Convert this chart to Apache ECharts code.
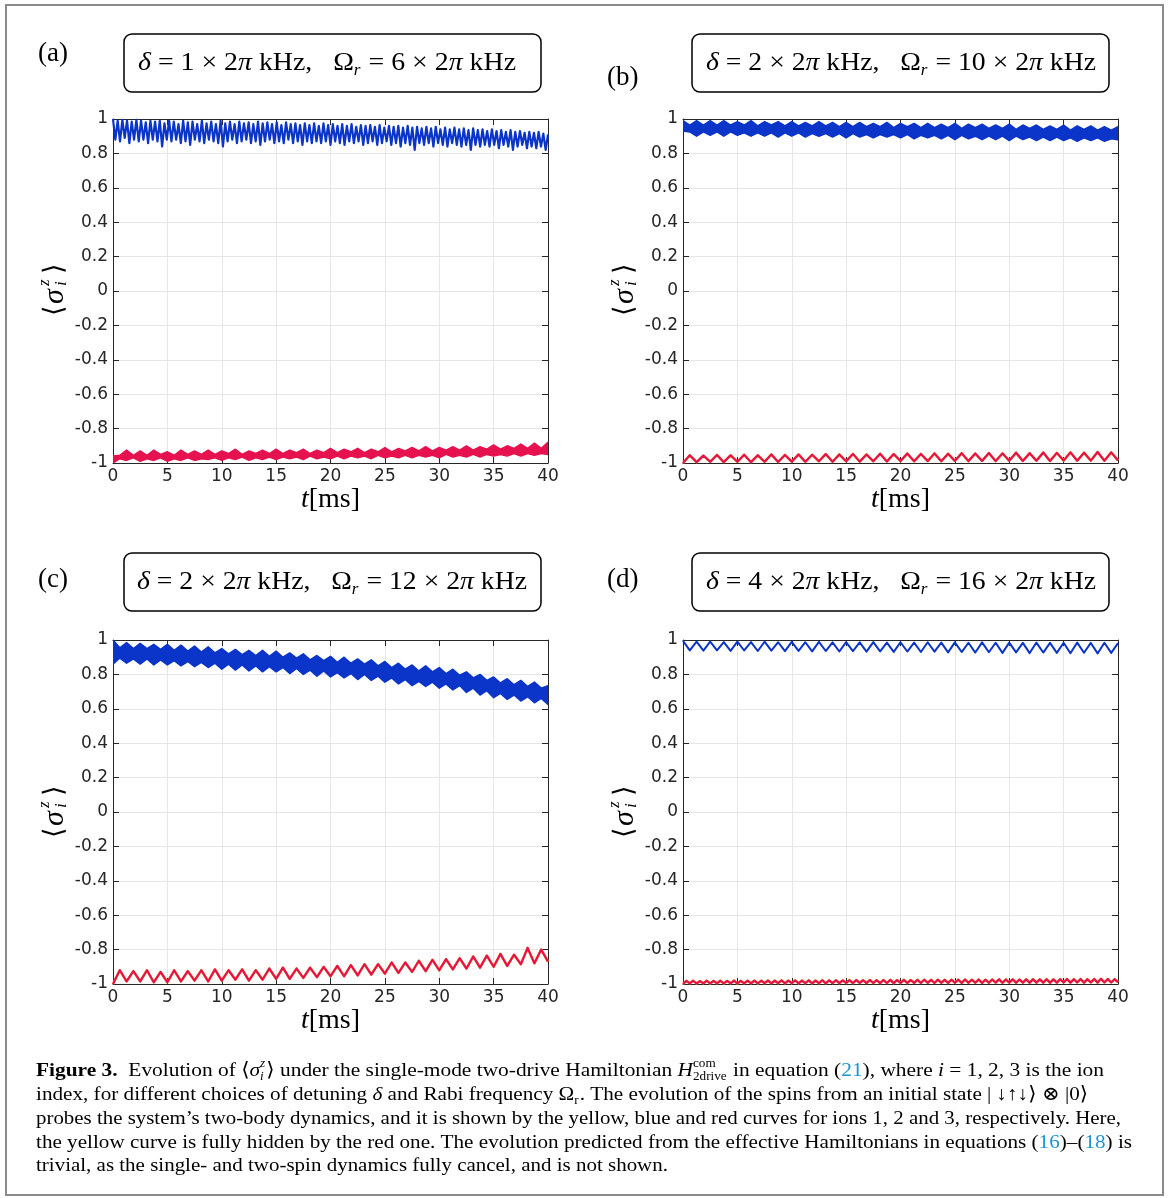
<!DOCTYPE html>
<html><head><meta charset="utf-8">
<script src="https://cdn.jsdelivr.net/npm/echarts@6/dist/echarts.min.js"></script>
<style>html,body{margin:0;padding:0;background:#fff}#c{width:1174px;height:1198px}</style>
</head><body><div id="c"></div>
<script>
// ---------- tick labels / categories ----------
const xTickLabels = ['0','5','10','15','20','25','30','35','40'];
const yTickLabels = ['-1','-0.8','-0.6','-0.4','-0.2','0','0.2','0.4','0.6','0.8','1'];
const panelLabels = ['(a)','(b)','(c)','(d)'];
const deltaValues = ['1','2','2','4'];
const omegaValues = ['6','10','12','16'];

const dtA = 40/186;
const dtB = 0.625;
const dtD = 0.3125;

// ---------- panel (a) ----------
const aBlue = [
1.00,0.88,0.99,0.87,0.995,0.89,0.99,0.86,0.985,0.88,
0.995,0.87,0.99,0.88,0.98,0.86,0.99,0.88,0.985,0.87,
0.99,0.84,0.975,0.88,0.99,0.87,0.985,0.88,0.97,0.86,
0.99,0.87,0.98,0.85,0.985,0.88,0.97,0.87,0.99,0.86,
0.975,0.88,0.985,0.87,0.97,0.86,0.99,0.84,0.975,0.87,
0.985,0.88,0.97,0.86,0.985,0.87,0.975,0.88,0.98,0.86,
0.97,0.87,0.985,0.85,0.975,0.87,0.98,0.88,0.97,0.86,
0.98,0.87,0.965,0.86,0.98,0.88,0.97,0.86,0.975,0.87,
0.965,0.85,0.975,0.87,0.965,0.86,0.975,0.87,0.96,0.86,
0.975,0.87,0.965,0.85,0.97,0.87,0.96,0.86,0.97,0.85,
0.96,0.87,0.97,0.86,0.955,0.87,0.965,0.85,0.96,0.86,
0.965,0.87,0.955,0.85,0.965,0.86,0.95,0.87,0.96,0.85,
0.955,0.86,0.96,0.84,0.95,0.86,0.96,0.85,0.95,0.82,
0.955,0.86,0.945,0.85,0.955,0.86,0.945,0.84,0.955,0.86,
0.94,0.85,0.95,0.84,0.94,0.86,0.95,0.85,0.94,0.84,
0.945,0.85,0.935,0.82,0.945,0.85,0.935,0.84,0.94,0.85,
0.93,0.84,0.94,0.85,0.93,0.83,0.935,0.85,0.925,0.84,
0.935,0.82,0.925,0.84,0.93,0.85,0.92,0.83,0.925,0.84,
0.92,0.83,0.925,0.84,0.915,0.82,0.91];
const aRedLo = [
-1.0,-0.975,-0.985,-0.97,-0.99,-0.975,-0.985,-0.97,-0.99,-0.975,
-0.985,-0.97,-0.985,-0.975,-0.98,-0.97,-0.985,-0.97,-0.98,-0.965,
-0.985,-0.97,-0.98,-0.965,-0.98,-0.965,-0.975,-0.965,-0.98,-0.96,
-0.975,-0.965,-0.975,-0.96,-0.975,-0.96,-0.97,-0.96,-0.975,-0.955,
-0.97,-0.96,-0.97,-0.955,-0.97,-0.955,-0.965,-0.955,-0.97,-0.95,
-0.965,-0.955,-0.965,-0.95,-0.965,-0.95,-0.96,-0.95,-0.96,-0.945,
-0.96,-0.945,-0.955,-0.945,-0.95];
const aRedHi = [
-0.96,-0.955,-0.925,-0.955,-0.93,-0.955,-0.925,-0.95,-0.935,-0.955,
-0.925,-0.95,-0.93,-0.95,-0.925,-0.95,-0.93,-0.945,-0.92,-0.95,
-0.93,-0.945,-0.925,-0.945,-0.92,-0.945,-0.925,-0.94,-0.92,-0.945,
-0.925,-0.94,-0.915,-0.94,-0.92,-0.935,-0.915,-0.94,-0.92,-0.935,
-0.91,-0.935,-0.915,-0.93,-0.91,-0.93,-0.905,-0.93,-0.91,-0.925,
-0.905,-0.925,-0.9,-0.925,-0.905,-0.92,-0.895,-0.92,-0.9,-0.915,
-0.89,-0.915,-0.885,-0.915,-0.88];

// ---------- panel (b) ----------
const bBlueLo = [
0.93,0.925,0.9,0.925,0.905,0.925,0.9,0.925,0.905,0.92,
0.9,0.92,0.9,0.92,0.895,0.92,0.9,0.92,0.895,0.915,
0.9,0.915,0.895,0.915,0.89,0.915,0.895,0.91,0.89,0.91,
0.895,0.91,0.89,0.91,0.885,0.905,0.89,0.905,0.885,0.905,
0.88,0.905,0.885,0.9,0.88,0.9,0.88,0.9,0.875,0.9,
0.88,0.895,0.875,0.895,0.875,0.895,0.875,0.89,0.87,0.89,
0.875,0.89,0.87,0.885,0.88];
const bBlueHi = [
0.99,0.965,0.99,0.965,0.99,0.965,0.99,0.965,0.985,0.965,
0.99,0.96,0.985,0.965,0.985,0.96,0.985,0.96,0.98,0.96,
0.985,0.96,0.98,0.955,0.98,0.955,0.98,0.955,0.975,0.955,
0.98,0.95,0.975,0.955,0.975,0.95,0.975,0.95,0.97,0.95,
0.975,0.945,0.97,0.95,0.97,0.945,0.965,0.945,0.97,0.94,
0.965,0.945,0.965,0.94,0.96,0.94,0.965,0.935,0.96,0.94,
0.96,0.935,0.955,0.935,0.955];
const bRed = [
-1.0,-0.955,-0.995,-0.957,-0.993,-0.953,-0.995,-0.955,-0.993,-0.952,
-0.995,-0.955,-0.993,-0.95,-0.994,-0.953,-0.992,-0.95,-0.993,-0.952,
-0.99,-0.948,-0.993,-0.95,-0.99,-0.947,-0.992,-0.95,-0.99,-0.946,
-0.991,-0.948,-0.989,-0.945,-0.99,-0.947,-0.989,-0.944,-0.99,-0.946,
-0.988,-0.943,-0.989,-0.945,-0.988,-0.942,-0.989,-0.944,-0.987,-0.94,
-0.988,-0.943,-0.987,-0.939,-0.988,-0.941,-0.986,-0.938,-0.987,-0.94,
-0.986,-0.936,-0.987,-0.938,-0.985];

// ---------- panel (c) ----------
const cBlueLo = [
0.86,0.895,0.865,0.89,0.86,0.89,0.855,0.885,0.855,0.88,
0.85,0.875,0.845,0.87,0.84,0.865,0.83,0.86,0.825,0.855,
0.82,0.85,0.815,0.845,0.815,0.84,0.805,0.835,0.8,0.825,
0.79,0.82,0.785,0.81,0.78,0.805,0.77,0.8,0.765,0.79,
0.755,0.78,0.745,0.77,0.735,0.76,0.73,0.755,0.72,0.745,
0.71,0.735,0.695,0.72,0.68,0.705,0.665,0.69,0.655,0.68,
0.645,0.67,0.635,0.66,0.625];
const cBlueHi = [
1.0,0.955,0.985,0.95,0.98,0.95,0.975,0.945,0.975,0.94,
0.97,0.935,0.965,0.93,0.96,0.925,0.95,0.92,0.945,0.915,
0.94,0.91,0.94,0.905,0.935,0.9,0.925,0.895,0.92,0.885,
0.91,0.88,0.905,0.87,0.9,0.865,0.89,0.86,0.885,0.85,
0.875,0.84,0.865,0.83,0.855,0.82,0.85,0.815,0.84,0.805,
0.83,0.795,0.815,0.78,0.8,0.765,0.785,0.75,0.775,0.74,
0.765,0.73,0.755,0.72,0.735];
const cRed = [
-1.0,-0.92,-0.985,-0.925,-0.985,-0.92,-0.99,-0.93,-0.99,-0.92,
-0.985,-0.925,-0.98,-0.92,-0.985,-0.915,-0.98,-0.92,-0.975,-0.915,
-0.98,-0.92,-0.975,-0.91,-0.97,-0.905,-0.97,-0.91,-0.965,-0.905,
-0.96,-0.9,-0.955,-0.895,-0.955,-0.89,-0.95,-0.885,-0.945,-0.885,
-0.94,-0.875,-0.935,-0.875,-0.93,-0.865,-0.925,-0.86,-0.92,-0.855,
-0.915,-0.85,-0.91,-0.84,-0.905,-0.835,-0.9,-0.825,-0.895,-0.83,
-0.885,-0.79,-0.88,-0.8,-0.87];

// ---------- panel (d) ----------
const dBlue = [
0.995,0.94,0.99,0.938,0.99,0.94,0.988,0.937,0.99,0.939,
0.988,0.936,0.99,0.938,0.987,0.935,0.989,0.937,0.987,0.934,
0.989,0.936,0.986,0.933,0.988,0.935,0.986,0.932,0.988,0.934,
0.985,0.931,0.987,0.933,0.985,0.93,0.987,0.932,0.985,0.928,
0.986,0.93,0.984,0.927,0.986,0.929,0.984,0.925,0.985,0.928,
0.983,0.924,0.985,0.927,0.983,0.925,0.984,0.923,0.985,0.926,
0.983,0.922,0.984,0.925,0.982];
const dRed = [
-1.0,-0.982,-0.996,-0.981,-0.997,-0.983,-0.996,-0.981,-0.997,-0.982,
-0.996,-0.981,-0.997,-0.982,-0.996,-0.98,-0.997,-0.982,-0.996,-0.981,
-0.996,-0.98,-0.997,-0.981,-0.995,-0.98,-0.996,-0.981,-0.995,-0.979,
-0.996,-0.98,-0.995,-0.979,-0.996,-0.98,-0.995,-0.979,-0.996,-0.98,
-0.995,-0.978,-0.996,-0.979,-0.995,-0.978,-0.995,-0.979,-0.994,-0.978,
-0.995,-0.977,-0.994,-0.978,-0.995,-0.977,-0.994,-0.978,-0.995,-0.977,
-0.994,-0.976,-0.995,-0.977,-0.994,-0.976,-0.994,-0.977,-0.993,-0.976,
-0.994,-0.975,-0.993,-0.976,-0.994,-0.975,-0.993,-0.976,-0.994,-0.975,
-0.993,-0.975,-0.994,-0.974,-0.993,-0.975,-0.993,-0.974,-0.994,-0.975,
-0.993,-0.974,-0.992,-0.973,-0.993,-0.974,-0.992,-0.973,-0.993,-0.974,
-0.992,-0.973,-0.993,-0.972,-0.992,-0.973,-0.992,-0.972,-0.993,-0.973,
-0.992,-0.972,-0.991,-0.971,-0.992,-0.972,-0.991,-0.971,-0.992,-0.972,
-0.991,-0.971,-0.992,-0.97,-0.991,-0.971,-0.991,-0.972,-0.99];

// ---------- styling ----------
const BLUE = '#0b34c9', RED = '#e6124f', YEL = '#edb120';
const SERIF = '"Liberation Serif", "DejaVu Serif", serif';
const SANS = '"DejaVu Sans", sans-serif';
const AX = '#262626';

const grids = [
  {left:113, top:119, width:435, height:344},
  {left:683, top:119, width:435, height:344},
  {left:113, top:640, width:435, height:344},
  {left:683, top:640, width:435, height:344}
];

function pts(arr, dt){ return arr.map((v,i)=>[+(i*dt).toFixed(6), v]); }

const xAxes = [], yAxes = [];
grids.forEach((g,p)=>{
  const common = {gridIndex:p, type:'value', min:0, max:40, interval:5,
    axisLine:{show:true, onZero:false, lineStyle:{color:AX, width:1}},
    axisTick:{show:true, inside:true, length:6, lineStyle:{color:AX, width:1}}};
  xAxes.push(Object.assign({}, common, {position:'bottom',
    axisLabel:{fontSize:17, fontFamily:SANS, color:AX, margin:5,
      formatter:v=>xTickLabels[Math.round(v/5)]},
    splitLine:{show:true, lineStyle:{color:'#e6e6e6', width:1}},
    name:'{i|t}[ms]', nameLocation:'middle', nameGap:22,
    nameTextStyle:{fontFamily:SERIF, fontSize:28, color:'#000',
      rich:{i:{fontFamily:SERIF, fontSize:28, fontStyle:'italic', color:'#000'}}}}));
  xAxes.push(Object.assign({}, common, {position:'top', axisLabel:{show:false}, splitLine:{show:false}}));
  const ycommon = {gridIndex:p, type:'value', min:-1, max:1, interval:0.2,
    axisLine:{show:true, onZero:false, lineStyle:{color:AX, width:1}},
    axisTick:{show:true, inside:true, length:6, lineStyle:{color:AX, width:1}}};
  yAxes.push(Object.assign({}, ycommon, {position:'left',
    axisLabel:{fontSize:17, fontFamily:SANS, color:AX, margin:5,
      formatter:v=>yTickLabels[Math.round((v+1)/0.2)]},
    splitLine:{show:true, lineStyle:{color:'#e6e6e6', width:1}}}));
  yAxes.push(Object.assign({}, ycommon, {position:'right', axisLabel:{show:false}, splitLine:{show:false}}));
});

function line(p, arr, dt, color, width, z){
  return {type:'line', xAxisIndex:2*p, yAxisIndex:2*p, data:pts(arr,dt), symbol:'none',
    lineStyle:{color, width, join:'round'}, z, silent:true};
}
// envelope band of an unresolved fast oscillation: polygon lo(forward) + hi(backward)
function band(p, lo, hi, dt, color){
  return {type:'custom', xAxisIndex:2*p, yAxisIndex:2*p, clip:true, silent:true, z:3,
    data: lo.map((v,i)=>[+(i*dt).toFixed(6), v, hi[i]]),
    encode:{x:0, y:[1,2]},
    renderItem:(params, api)=>{
      if (params.dataIndex !== 0) return null;
      const n = params.dataInsideLength;
      const top = [], bot = [];
      for (let j=0;j<n;j++){
        bot.push(api.coord([api.value(0,j), api.value(1,j)]));
        top.push(api.coord([api.value(0,j), api.value(2,j)]));
      }
      return {type:'polygon', shape:{points: bot.concat(top.reverse())},
        style:{fill:color, stroke:color, lineWidth:1.5, lineJoin:'round'}};
    }};
}

const series = [
  line(0, aBlue, dtA, BLUE, 2.2, 3),
  band(0, aRedLo, aRedHi, dtB, RED),
  band(1, bBlueLo, bBlueHi, dtB, BLUE),
  line(1, bRed, dtB, YEL, 2.5, 2),
  line(1, bRed, dtB, RED, 2.2, 3),
  band(2, cBlueLo, cBlueHi, dtB, BLUE),
  line(2, cRed, dtB, YEL, 2.5, 2),
  line(2, cRed, dtB, RED, 2.2, 3),
  line(3, dBlue, dtB, BLUE, 2, 3),
  line(3, dRed, dtD, YEL, 2.5, 2),
  line(3, dRed, dtD, RED, 2.2, 3)
];

// ---------- text layout helper ----------
const ctx = document.createElement('canvas').getContext('2d');
function fontStr(r, size){ return (r.i?'italic ':'') + (r.b?'bold ':'') + size + 'px ' + SERIF; }
function measure(text, r, size){ ctx.font = fontStr(r, size); return ctx.measureText(text).width; }
function tstyle(text, r, size){
  return {text, fontFamily:SERIF, fontSize:size, fontStyle:r.i?'italic':'normal',
    fontWeight:r.b?'bold':'normal', fill:r.c||'#000', verticalAlign:'middle', align:'left'};
}
function runLine(runs, x0, yc, size, targetEnd){
  const children = []; let x = 0; const ss = Math.round(size*0.62);
  runs.forEach(r=>{
    if (r.t !== undefined){
      children.push({type:'text', x, y:0, style:tstyle(r.t, r, size)});
      x += measure(r.t, r, size);
    } else {
      let w = 0;
      if (r.sup){ children.push({type:'text', x, y:-size*0.36, style:tstyle(r.sup, r, ss)}); w = Math.max(w, measure(r.sup, r, ss)); }
      if (r.sub){ children.push({type:'text', x, y:size*0.3, style:tstyle(r.sub, r, ss)}); w = Math.max(w, measure(r.sub, r, ss)); }
      x += w + 1;
    }
  });
  const sx = targetEnd ? (targetEnd - x0)/x : 1;
  return {type:'group', x:x0, y:yc, scaleX:sx, scaleY:1, children, silent:true};
}

const graphic = [];
// outer frame
graphic.push({type:'rect', shape:{x:6, y:5, width:1157, height:1190}, style:{fill:'none', stroke:'#8a8a8a', lineWidth:2}, silent:true});

// title boxes
const boxes = [
  {x:124, y:34, tx:138, te:516}, {x:692, y:34, tx:706, te:1096},
  {x:124, y:553, tx:137, te:527}, {x:692, y:553, tx:706, te:1096}
];
boxes.forEach((b,k)=>{
  graphic.push({type:'rect', shape:{x:b.x, y:b.y, width:417, height:58, r:8},
    style:{fill:'#fff', stroke:'#000', lineWidth:1.5}, silent:true});
  const runs = [{t:'δ', i:1}, {t:' = '+deltaValues[k]+' × 2'}, {t:'π', i:1}, {t:' kHz,   Ω'},
    {sub:'r', i:1}, {t:' = '+omegaValues[k]+' × 2'}, {t:'π', i:1}, {t:' kHz'}];
  graphic.push(runLine(runs, b.tx, b.y+29, 26, b.te));
});

// panel letters
const letterPos = [[38,54],[607,78],[38,580],[607,580]];
panelLabels.forEach((t,k)=>{
  graphic.push({type:'text', x:letterPos[k][0], y:letterPos[k][1],
    style:{text:t, fontFamily:SERIF, fontSize:27, fill:'#000', verticalAlign:'middle', align:'left'}, silent:true});
});

// y-axis labels <sigma_i^z>
const yLabPos = [[55,288],[625,288],[55,810],[625,810]];
yLabPos.forEach(([cx,cy])=>{
  const st = (text, size, it)=>({text, fontFamily:SERIF, fontSize:size, fontStyle:it?'italic':'normal',
    fill:'#000', verticalAlign:'middle', align:'left'});
  graphic.push({type:'group', x:cx, y:cy, rotation:Math.PI/2, silent:true, children:[
    {type:'text', x:-28, y:0, style:st('⟨', 27, false)},
    {type:'text', x:-16, y:0, style:st('σ', 30, true)},
    {type:'text', x:2, y:-10, style:st('z', 17, true)},
    {type:'text', x:2, y:7, style:st('i', 17, true)},
    {type:'text', x:14, y:0, style:st('⟩', 27, false)}
  ]});
});

// caption
const LINK = '#1b95d4';
const captionLines = [
  [{t:'Figure 3.', b:1}, {t:'  Evolution of ⟨'}, {t:'σ', i:1}, {sup:'z', sub:'i', i:1},
   {t:'⟩ under the single-mode two-drive Hamiltonian '}, {t:'H', i:1}, {sup:'com', sub:'2drive'},
   {t:' in equation ('}, {t:'21', c:LINK}, {t:'), where '}, {t:'i', i:1}, {t:' = 1, 2, 3 is the ion'}],
  [{t:'index, for different choices of detuning '}, {t:'δ', i:1}, {t:' and Rabi frequency Ω'}, {sub:'r'},
   {t:'. The evolution of the spins from an initial state | ↓↑↓⟩ ⊗ |0⟩'}],
  [{t:'probes the system’s two-body dynamics, and it is shown by the yellow, blue and red curves for ions 1, 2 and 3, respectively. Here,'}],
  [{t:'the yellow curve is fully hidden by the red one. The evolution predicted from the effective Hamiltonians in equations ('},
   {t:'16', c:LINK}, {t:')–('}, {t:'18', c:LINK}, {t:') is'}],
  [{t:'trivial, as the single- and two-spin dynamics fully cancel, and is not shown.'}]
];
const capY = [1071, 1095, 1119, 1143, 1166];
const capEnd = [1104, 1088, 1121, 1132, 668];
captionLines.forEach((runs,k)=>graphic.push(runLine(runs, 36, capY[k], 19.5, capEnd[k])));

const chart = echarts.init(document.getElementById('c'), null, {renderer:'canvas'});
chart.setOption({
  animation:false,
  backgroundColor:'#fff',
  grid: grids.map(g=>Object.assign({containLabel:false, outerBoundsMode:'none'}, g)),
  xAxis: xAxes,
  yAxis: yAxes,
  series,
  graphic
});
</script>
</body></html>
